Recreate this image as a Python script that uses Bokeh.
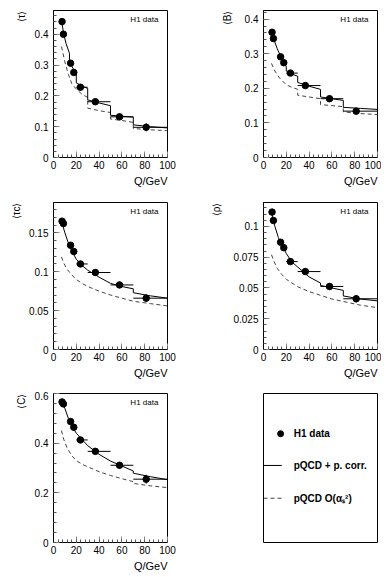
import numpy as np
from bokeh.plotting import figure
from bokeh.models import FixedTicker, Label, Title
from bokeh.layouts import column, row
from bokeh.embed import file_html
from bokeh.resources import INLINE

# ---------------- data ----------------
Q = [7.5, 8.7, 15.0, 17.8, 23.6, 36.7, 57.9, 81.3]
Q_lo = [7, 8, 14, 16, 20, 30, 50, 70]
Q_hi = [8, 10, 16, 20, 30, 50, 70, 100]

tau_val = [0.441, 0.400, 0.306, 0.276, 0.228, 0.181, 0.132, 0.098]
tau_err = [0.010, 0.008, 0.007, 0.007, 0.006, 0.007, 0.010, 0.013]
tau_fit_x = [7, 9, 11, 14, 14, 17, 20, 20, 25, 30, 30, 40, 50, 50, 60, 70, 70, 85, 100]
tau_fit_y = [0.445, 0.40, 0.37, 0.338, 0.31, 0.29, 0.276, 0.242, 0.232, 0.224, 0.187, 0.177, 0.168, 0.137, 0.134, 0.131, 0.106, 0.100, 0.096]
tau_pq_x = [7, 10, 13, 16, 20, 25, 30, 30, 40, 50, 50, 60, 70, 70, 85, 100]
tau_pq_y = [0.36, 0.31, 0.27, 0.24, 0.222, 0.205, 0.195, 0.16, 0.152, 0.146, 0.125, 0.120, 0.114, 0.094, 0.090, 0.087]

B_val = [0.362, 0.344, 0.291, 0.274, 0.244, 0.208, 0.170, 0.134]
B_err = [0.006, 0.006, 0.005, 0.005, 0.005, 0.006, 0.009, 0.010]
B_fit_x = [7, 9, 12, 15, 18, 20, 20, 25, 30, 30, 40, 50, 50, 60, 70, 70, 85, 100]
B_fit_y = [0.362, 0.342, 0.315, 0.293, 0.275, 0.262, 0.250, 0.241, 0.235, 0.217, 0.206, 0.197, 0.175, 0.170, 0.165, 0.145, 0.142, 0.139]
B_pq_x = [7, 10, 14, 20, 25, 30, 30, 40, 50, 50, 60, 70, 70, 85, 100]
B_pq_y = [0.272, 0.250, 0.230, 0.210, 0.203, 0.197, 0.180, 0.175, 0.170, 0.153, 0.150, 0.147, 0.132, 0.127, 0.124]

tc_val = [0.165, 0.162, 0.134, 0.126, 0.110, 0.099, 0.083, 0.066]
tc_err = [0.003, 0.003, 0.002, 0.002, 0.002, 0.003, 0.004, 0.005]
tc_fit_x = [7, 8, 10, 13, 16, 20, 25, 30, 40, 50, 60, 70, 70, 85, 100]
tc_fit_y = [0.166, 0.160, 0.150, 0.137, 0.127, 0.116, 0.108, 0.102, 0.093, 0.085, 0.081, 0.078, 0.073, 0.069, 0.066]
tc_pq_x = [7, 9, 12, 16, 20, 25, 30, 40, 50, 60, 70, 85, 100]
tc_pq_y = [0.119, 0.111, 0.103, 0.096, 0.090, 0.085, 0.081, 0.075, 0.070, 0.066, 0.062, 0.059, 0.056]

rho_val = [0.1116, 0.1048, 0.0871, 0.0827, 0.0714, 0.0633, 0.0512, 0.0412]
rho_err = [0.0020, 0.0020, 0.0015, 0.0015, 0.0015, 0.0015, 0.0025, 0.0030]
rho_fit_x = [7, 8, 10, 13, 16, 20, 25, 30, 40, 50, 50, 60, 70, 70, 85, 100]
rho_fit_y = [0.112, 0.107, 0.100, 0.091, 0.085, 0.078, 0.071, 0.067, 0.059, 0.054, 0.052, 0.050, 0.048, 0.0435, 0.041, 0.0395]
rho_pq_x = [7, 9, 12, 16, 20, 25, 30, 40, 50, 60, 70, 85, 100]
rho_pq_y = [0.077, 0.072, 0.066, 0.061, 0.057, 0.054, 0.051, 0.047, 0.044, 0.041, 0.039, 0.036, 0.034]

C_val = [0.566, 0.558, 0.487, 0.464, 0.413, 0.367, 0.311, 0.255]
C_err = [0.008, 0.008, 0.006, 0.006, 0.006, 0.007, 0.013, 0.018]
C_fit_x = [7, 8, 10, 13, 16, 20, 25, 30, 40, 50, 60, 70, 70, 85, 100]
C_fit_y = [0.570, 0.560, 0.540, 0.500, 0.470, 0.440, 0.415, 0.390, 0.355, 0.328, 0.308, 0.288, 0.279, 0.265, 0.253]
C_pq_x = [7, 9, 12, 16, 20, 25, 30, 40, 50, 60, 70, 70, 85, 100]
C_pq_y = [0.451, 0.415, 0.380, 0.350, 0.330, 0.315, 0.305, 0.285, 0.270, 0.257, 0.245, 0.238, 0.228, 0.221]

FONT = "Liberation Sans"


def panel(label, vals, errs, fx, fy, px, py, ymax, yticks, ylabels, yminor,
          width, height, b_left, b_right, b_top, b_bottom, frame_h, lab_standoff):
    p = figure(width=width, height=height, x_range=(0, 100), y_range=(0, ymax),
               output_backend="svg", toolbar_location=None,
               min_border_left=b_left, min_border_right=b_right,
               min_border_top=b_top, min_border_bottom=b_bottom)
    p.grid.visible = False
    p.outline_line_color = "black"
    p.outline_line_width = 1
    p.background_fill_color = "white"
    p.border_fill_color = "white"

    p.xaxis.ticker = FixedTicker(ticks=[0, 20, 40, 60, 80, 100],
                                 minor_ticks=list(range(0, 101, 4)))
    p.yaxis.ticker = FixedTicker(ticks=yticks, minor_ticks=yminor)
    p.yaxis.major_label_overrides = dict(zip(yticks, ylabels))
    p.xaxis.major_label_overrides = {v: str(v) for v in [0, 20, 40, 60, 80, 100]}
    for ax in (p.xaxis, p.yaxis):
        ax.major_tick_in = 6
        ax.major_tick_out = 0
        ax.minor_tick_in = 3
        ax.minor_tick_out = 0
        ax.major_tick_line_color = "#888888"
        ax.minor_tick_line_color = "#555555"
        ax.axis_line_color = "black"
        ax.major_label_text_font = FONT
        ax.major_label_text_font_size = "10px"
        ax.major_label_text_color = "black"
    p.xaxis.major_label_standoff = 3
    p.yaxis.major_label_standoff = 5

    # theory curves
    p.line(px, py, line_color="#444444", line_dash="4 3", line_width=1)
    p.line(fx, fy, line_color="black", line_width=1)

    # data with errors
    v = np.array(vals)
    e = np.array(errs)
    p.segment(x0=Q_lo, y0=vals, x1=Q_hi, y1=vals, line_color="black", line_width=1)
    p.segment(x0=Q, y0=list(v - e), x1=Q, y1=list(v + e), line_color="black", line_width=1)
    p.scatter(Q, vals, size=6.5, marker="circle", fill_color="black", line_color="black")

    px_per_unit = frame_h / ymax
    p.add_layout(Label(x=92, y=ymax - 9 / px_per_unit, text="H1 data",
                       text_font=FONT, text_font_size="8px", text_align="right",
                       text_baseline="middle", text_color="black"))
    p.add_layout(Title(text="Q/GeV", align="right", text_font=FONT,
                       text_font_size="11px", text_font_style="normal",
                       text_color="black", standoff=2), "below")
    p.add_layout(Title(text=label, align="right", text_font=FONT,
                       text_font_size="10px", text_font_style="normal",
                       text_color="black", standoff=lab_standoff), "left")
    return p


W1, W2 = 196, 185
L1, L2 = 53, 67
R1, R2 = 29, 4

p1 = panel("⟨τ⟩", tau_val, tau_err, tau_fit_x, tau_fit_y, tau_pq_x, tau_pq_y, 0.477,
           [0, 0.1, 0.2, 0.3, 0.4], ["0", "0.1", "0.2", "0.3", "0.4"],
           list(np.round(np.arange(0, 0.48, 0.02), 3)), W1, 200, L1, R1, 10, 43, 147, 10)
p2 = panel("⟨B⟩", B_val, B_err, B_fit_x, B_fit_y, B_pq_x, B_pq_y, 0.425,
           [0, 0.1, 0.2, 0.3, 0.4], ["0", "0.1", "0.2", "0.3", "0.4"],
           list(np.round(np.arange(0, 0.43, 0.02), 3)), W2, 200, L2, R2, 10, 43, 147, 17)
p3 = panel("⟨τc⟩", tc_val, tc_err, tc_fit_x, tc_fit_y, tc_pq_x, tc_pq_y, 0.189,
           [0, 0.05, 0.1, 0.15], ["0", "0.05", "0.1", "0.15"],
           list(np.round(np.arange(0, 0.19, 0.01), 3)), W1, 191, L1, R1, 2, 42, 147, 10)
p4 = panel("⟨ρ⟩", rho_val, rho_err, rho_fit_x, rho_fit_y, rho_pq_x, rho_pq_y, 0.1194,
           [0, 0.025, 0.05, 0.075, 0.1], ["0", "0.025", "0.05", "0.075", "0.1"],
           list(np.round(np.arange(0, 0.12, 0.005), 4)), W2, 191, L2, R2, 2, 42, 147, 17)
p5 = panel("⟨C⟩", C_val, C_err, C_fit_x, C_fit_y, C_pq_x, C_pq_y, 0.6,
           [0, 0.2, 0.4, 0.6], ["0", "0.2", "0.4", "0.6"],
           list(np.round(np.arange(0, 0.61, 0.04), 3)), W1, 181, L1, R1, 2, 30, 149, 10)

# legend panel
lg = figure(width=W2, height=181, x_range=(0, 1), y_range=(0, 1),
            output_backend="svg", toolbar_location=None,
            min_border_left=L2, min_border_right=R2, min_border_top=2, min_border_bottom=30,
            x_axis_type=None, y_axis_type=None)
lg.grid.visible = False
lg.outline_line_color = "black"
lg.outline_line_width = 1
lg.scatter([0.15], [0.73], size=6, marker="circle", fill_color="black", line_color="black")
lg.line([0.0, 0.16], [0.517, 0.517], line_color="black", line_width=1)
lg.line([0.0, 0.16], [0.297, 0.297], line_color="#444444", line_width=1, line_dash="4 3")
for yy, t in [(0.73, "H1 data"), (0.517, "pQCD + p. corr."), (0.297, "pQCD O(αₛ²)")]:
    lg.add_layout(Label(x=0.265, y=yy, text=t, text_font=FONT, text_font_size="10px",
                        text_font_style="bold", text_baseline="middle", text_color="black"))

layout = column(row(p1, p2), row(p3, p4), row(p5, lg))
open("out.html", "w").write(file_html(layout, INLINE))
